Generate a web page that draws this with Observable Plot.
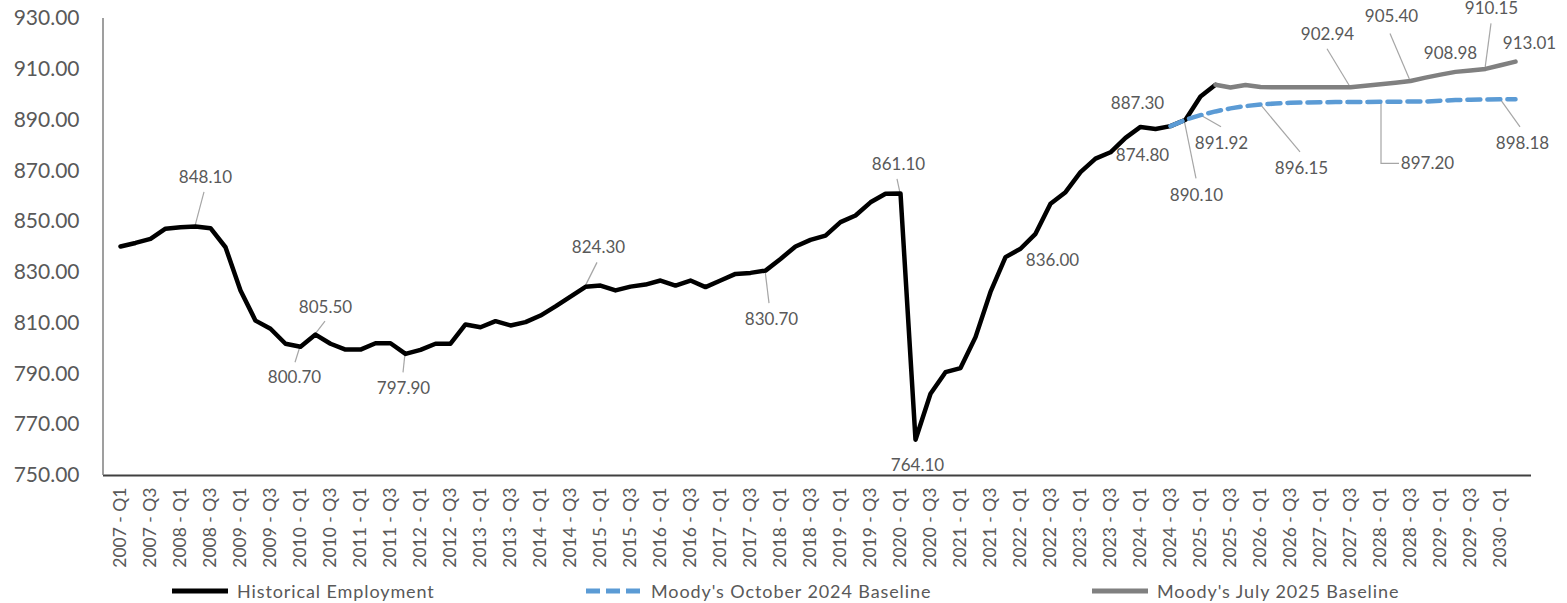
<!DOCTYPE html>
<html>
<head>
<meta charset="utf-8">
<script src="https://cdn.jsdelivr.net/npm/d3@7"></script>
<script src="https://cdn.jsdelivr.net/npm/@observablehq/plot@0.6"></script>
<style>
  html, body { margin: 0; padding: 0; background: #ffffff; }
  #chart svg { display: block; overflow: visible; }
  #legend { position: relative; width: 1567px; height: 25px; font-family: Lato, "Open Sans", sans-serif; font-size: 18px; letter-spacing: 0.9px; color: #595959; }
  #legend .item { position: absolute; top: 0; height: 25px; display: flex; align-items: center; white-space: nowrap; }
  #legend svg { display: block; margin-right: 9px; }
</style>
</head>
<body>
<div id="chart"></div>
<div id="legend"></div>
<script>
// ---------------- DATA ----------------
const quarters = [
  "2007 - Q1","2007 - Q2","2007 - Q3","2007 - Q4",
  "2008 - Q1","2008 - Q2","2008 - Q3","2008 - Q4",
  "2009 - Q1","2009 - Q2","2009 - Q3","2009 - Q4",
  "2010 - Q1","2010 - Q2","2010 - Q3","2010 - Q4",
  "2011 - Q1","2011 - Q2","2011 - Q3","2011 - Q4",
  "2012 - Q1","2012 - Q2","2012 - Q3","2012 - Q4",
  "2013 - Q1","2013 - Q2","2013 - Q3","2013 - Q4",
  "2014 - Q1","2014 - Q2","2014 - Q3","2014 - Q4",
  "2015 - Q1","2015 - Q2","2015 - Q3","2015 - Q4",
  "2016 - Q1","2016 - Q2","2016 - Q3","2016 - Q4",
  "2017 - Q1","2017 - Q2","2017 - Q3","2017 - Q4",
  "2018 - Q1","2018 - Q2","2018 - Q3","2018 - Q4",
  "2019 - Q1","2019 - Q2","2019 - Q3","2019 - Q4",
  "2020 - Q1","2020 - Q2","2020 - Q3","2020 - Q4",
  "2021 - Q1","2021 - Q2","2021 - Q3","2021 - Q4",
  "2022 - Q1","2022 - Q2","2022 - Q3","2022 - Q4",
  "2023 - Q1","2023 - Q2","2023 - Q3","2023 - Q4",
  "2024 - Q1","2024 - Q2","2024 - Q3","2024 - Q4",
  "2025 - Q1","2025 - Q2","2025 - Q3","2025 - Q4",
  "2026 - Q1","2026 - Q2","2026 - Q3","2026 - Q4",
  "2027 - Q1","2027 - Q2","2027 - Q3","2027 - Q4",
  "2028 - Q1","2028 - Q2","2028 - Q3","2028 - Q4",
  "2029 - Q1","2029 - Q2","2029 - Q3","2029 - Q4",
  "2030 - Q1","2030 - Q2"
];

// Historical Employment: 2007 - Q1 .. 2025 - Q2
const historical = [
  840.2, 841.6, 843.2, 847.2, 847.8, 848.1, 847.4, 839.9, 822.9, 811.0,
  807.8, 801.9, 800.7, 805.5, 801.9, 799.6, 799.6, 802.1, 802.1, 797.9,
  799.5, 801.9, 801.9, 809.5, 808.4, 810.8, 809.1, 810.4, 813.0, 816.6,
  820.5, 824.3, 824.8, 822.9, 824.4, 825.2, 826.8, 824.8, 826.8, 824.2,
  826.8, 829.4, 829.8, 830.7, 835.3, 840.2, 842.8, 844.5, 849.8, 852.4,
  857.6, 861.0, 861.1, 764.1, 782.2, 790.7, 792.3, 804.5, 822.3, 836.0,
  839.3, 845.2, 857.0, 861.6, 869.5, 874.8, 877.3, 883.0, 887.3, 886.5,
  887.6, 890.1, 899.3, 903.9
];
const historicalStart = "2007 - Q1";

// Moody's October 2024 Baseline: 2024 - Q3 .. 2030 - Q2
const october2024 = [
  887.6, 890.1, 891.92, 893.4, 894.6, 895.5, 896.15, 896.5, 896.8, 896.9,
  897.0, 897.1, 897.1, 897.15, 897.2, 897.2, 897.3, 897.3, 897.6, 897.9,
  898.0, 898.1, 898.18, 898.2
];
const october2024Start = "2024 - Q3";

// Moody's July 2025 Baseline: 2025 - Q2 .. 2030 - Q2
const july2025 = [
  903.9, 902.8, 903.8, 903.0, 902.9, 902.9, 902.9, 902.9, 902.9, 902.94,
  903.5, 904.1, 904.7, 905.4, 906.7, 907.9, 908.98, 909.5, 910.15, 911.6,
  913.01
];
const july2025Start = "2025 - Q2";

const yTicks = [750, 770, 790, 810, 830, 850, 870, 890, 910, 930];
const xTickLabels = quarters.filter((d, i) => i % 2 === 0);

const seriesNames = ["Historical Employment", "Moody's October 2024 Baseline", "Moody's July 2025 Baseline"];

// labelled points: [series, quarter]
const labelled = [
  ["hist", "2008 - Q2"], ["hist", "2010 - Q1"], ["hist", "2010 - Q2"], ["hist", "2011 - Q4"],
  ["hist", "2014 - Q4"], ["hist", "2017 - Q4"], ["hist", "2020 - Q1"], ["hist", "2020 - Q2"],
  ["hist", "2021 - Q4"], ["hist", "2023 - Q2"], ["hist", "2024 - Q1"], ["hist", "2024 - Q4"],
  ["oct", "2025 - Q1"], ["oct", "2026 - Q1"], ["oct", "2028 - Q1"], ["oct", "2030 - Q1"],
  ["jul", "2027 - Q3"], ["jul", "2028 - Q3"], ["jul", "2029 - Q2"], ["jul", "2029 - Q4"], ["jul", "2030 - Q2"]
];

// ---------------- LAYOUT (label placement, px offsets from the point) ----------------
const labelPlacement = [
  {dx: 10, dy: -49, leader: [[9, -34], [0, 0]]},
  {dx: -6, dy: 31, leader: [[-5, 16], [0, 0]]},
  {dx: 10, dy: -27, leader: [[10, -13], [0, 0]]},
  {dx: -2, dy: 35, leader: [[-2, 19], [0, 0]]},
  {dx: 13, dy: -39, leader: [[12, -24], [0, 0]]},
  {dx: 6, dy: 49, leader: [[4, 33], [0, 0]]},
  {dx: -2, dy: -29, leader: [[-3, -14], [0, 0]]},
  {dx: 2, dy: 26, leader: null},
  {dx: 47, dy: 3, leader: null},
  {dx: 47, dy: -3, leader: null},
  {dx: -3, dy: -23, leader: null},
  {dx: 11, dy: 76, leader: [[11, 59], [-1, 0]]},
  {dx: 21, dy: 28, leader: [[21, 12], [0, 0]]},
  {dx: 41, dy: 64, leader: [[40, 48], [0, 0]]},
  {dx: 47, dy: 62, leader: [[19, 62], [1, 62], [1, 0]]},
  {dx: 22, dy: 44, leader: [[20, 28], [0, 0]]},
  {dx: -23, dy: -53, leader: [[-23, -38], [0, 0]]},
  {dx: -19, dy: -64, leader: [[-20, -47], [0, 0]]},
  {dx: -5, dy: -18, leader: null},
  {dx: 6, dy: -60, leader: [[6, -45], [0, 0]]},
  {dx: 14, dy: -18, leader: null}
];

// ---------------- BUILD ----------------
function toRows(values, start) {
  const s = quarters.indexOf(start);
  return values.map((v, i) => ({q: quarters[s + i], v}));
}
const histRows = toRows(historical, historicalStart);
const octRows = toRows(october2024, october2024Start);
const julRows = toRows(july2025, july2025Start);
const lookup = {hist: histRows, oct: octRows, jul: julRows};

const annotations = labelled.map(([s, q], i) => {
  const row = lookup[s].find(r => r.q === q);
  return {q: row.q, v: row.v, ...labelPlacement[i]};
});

const textColor = "#595959";
const NS = "http://www.w3.org/2000/svg";

function yAxisLine(index, scales, values, dims) {
  const l = document.createElementNS(NS, "line");
  l.setAttribute("x1", dims.marginLeft);
  l.setAttribute("x2", dims.marginLeft);
  l.setAttribute("y1", dims.marginTop);
  l.setAttribute("y2", dims.height - dims.marginBottom);
  l.setAttribute("stroke", "#7f7f7f");
  l.setAttribute("stroke-width", 1.5);
  return l;
}

function leaders(index, scales) {
  const g = document.createElementNS(NS, "g");
  for (const a of annotations) {
    if (!a.leader) continue;
    const x0 = scales.x(a.q), y0 = scales.y(a.v);
    const p = document.createElementNS(NS, "polyline");
    p.setAttribute("points", a.leader.map(([dx, dy]) => `${x0 + dx},${y0 + dy}`).join(" "));
    p.setAttribute("fill", "none");
    p.setAttribute("stroke", "#a6a6a6");
    p.setAttribute("stroke-width", 1.2);
    g.appendChild(p);
  }
  return g;
}

const chart = Plot.plot({
  width: 1567,
  height: 578,
  marginLeft: 103,
  marginRight: 36,
  marginTop: 18,
  marginBottom: 103,
  style: {fontFamily: "Lato, 'Open Sans', sans-serif", color: textColor, background: "#ffffff", overflow: "visible"},
  x: {type: "point", domain: quarters, padding: 0.5, align: 0.5},
  y: {domain: [750, 930]},
  marks: [
    Plot.axisY({ticks: yTicks, tickFormat: d => d.toFixed(2), tickSize: 0, tickPadding: 24, fontSize: 21, label: null}),
    Plot.axisX({ticks: xTickLabels, tickRotate: -90, tickSize: 0, tickPadding: 12, fontSize: 17.5, label: null}),
    Plot.ruleY([750], {stroke: "#404040", strokeWidth: 2}),
    yAxisLine,
    leaders,
    Plot.line(histRows, {x: "q", y: "v", stroke: "#000000", strokeWidth: 4.5, strokeLinejoin: "round", strokeLinecap: "round"}),
    Plot.line(julRows, {x: "q", y: "v", stroke: "#808080", strokeWidth: 4.5, strokeLinejoin: "round", strokeLinecap: "round"}),
    Plot.line(octRows, {x: "q", y: "v", stroke: "#5b9bd5", strokeWidth: 4.5, strokeDasharray: "13,7", strokeLinejoin: "round"}),
    ...annotations.map(a => Plot.text([a], {
      x: "q", y: "v", text: d => d.v.toFixed(2),
      dx: a.dx, dy: a.dy, fontSize: 17, fill: textColor, textAnchor: "middle"
    }))
  ]
});
document.getElementById("chart").appendChild(chart);

// ---------------- LEGEND ----------------
const legendItems = [
  {name: seriesNames[0], color: "#000000", dash: null, left: 172},
  {name: seriesNames[1], color: "#5b9bd5", dash: "14,6", left: 586},
  {name: seriesNames[2], color: "#808080", dash: null, left: 1092}
];
const legend = document.getElementById("legend");
for (const it of legendItems) {
  const div = document.createElement("div");
  div.className = "item";
  div.style.left = it.left + "px";
  const sw = document.createElementNS(NS, "svg");
  sw.setAttribute("width", 56);
  sw.setAttribute("height", 10);
  const ln = document.createElementNS(NS, "line");
  ln.setAttribute("x1", 0); ln.setAttribute("x2", 56);
  ln.setAttribute("y1", 5); ln.setAttribute("y2", 5);
  ln.setAttribute("stroke", it.color);
  ln.setAttribute("stroke-width", 5);
  if (it.dash) ln.setAttribute("stroke-dasharray", it.dash);
  sw.appendChild(ln);
  div.appendChild(sw);
  const span = document.createElement("span");
  span.textContent = it.name;
  div.appendChild(span);
  legend.appendChild(div);
}
</script>
</body>
</html>
